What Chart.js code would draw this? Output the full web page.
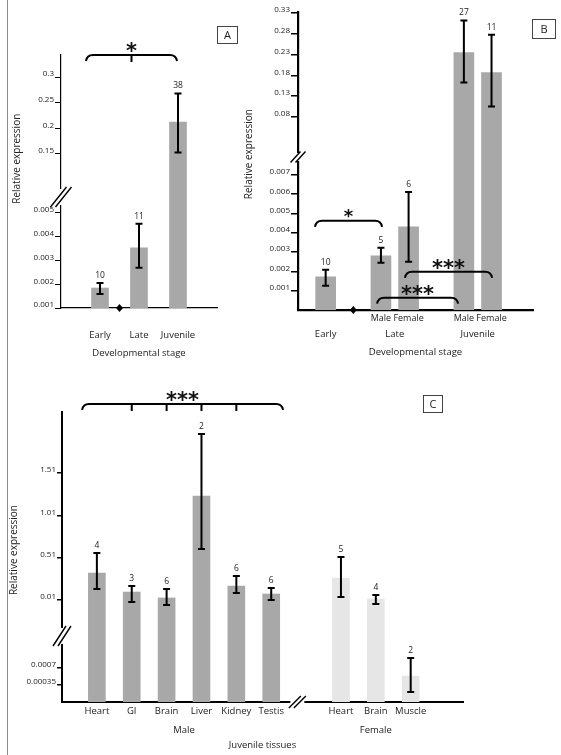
<!DOCTYPE html>
<html>
<head>
<meta charset="utf-8">
<script src="https://cdn.jsdelivr.net/npm/chart.js@4.4.1/dist/chart.umd.min.js"></script>
<style>
  body { margin: 0; background: #fff; width: 561px; height: 755px; position: relative; overflow: hidden; }
  canvas { position: absolute; }
  #chartA { left: 0; top: 0; }
  #chartB { left: 230px; top: 0; }
  #chartC { left: 0; top: 370px; }
  .rule { position: absolute; left: 7px; top: 0; width: 1px; height: 755px; background: #8c8c8c; }
  .tag { position: absolute; border: 1px solid #444; box-sizing: border-box; font: 11px 'Open Sans', sans-serif;
         color: #222; text-align: center; }
</style>
</head>
<body>
<div class="rule"></div>
<canvas id="chartA" width="280" height="365"></canvas>
<canvas id="chartB" width="331" height="365"></canvas>
<canvas id="chartC" width="561" height="385"></canvas>
<div class="tag" style="left:217px;top:26px;width:21px;height:18px;line-height:16px">A</div>
<div class="tag" style="left:532px;top:19px;width:24px;height:20px;line-height:18px">B</div>
<div class="tag" style="left:423px;top:395px;width:20px;height:18px;line-height:16px">C</div>
<script>
// Panel A: developmental stage
const stagesA = ['Early', 'Late', 'Juvenile'];
const meanA = [0.00184, 0.00353, 0.212];
const lowA = [0.00159, 0.00269, 0.153];
const highA = [0.00205, 0.00454, 0.268];
const nA = [10, 11, 38];
const ticksHiA = ['0.15', '0.2', '0.25', '0.3'];
const ticksLoA = ['0.001', '0.002', '0.003', '0.004', '0.005'];

// Panel B: stage split by sex
const stagesB = ['Early', 'Late', 'Late', 'Juvenile', 'Juvenile'];
const sexB = ['', 'Male', 'Female', 'Male', 'Female'];
const meanB = [0.00172, 0.00281, 0.00431, 0.235, 0.187];
const lowB = [0.00126, 0.00245, 0.0025, 0.163, 0.105];
const highB = [0.00209, 0.00322, 0.00612, 0.312, 0.278];
const nB = [10, 5, 6, 27, 11];
const ticksHiB = ['0.08', '0.13', '0.18', '0.23', '0.28', '0.33'];
const ticksLoB = ['0.001', '0.002', '0.003', '0.004', '0.005', '0.006', '0.007'];

// Panel C: juvenile tissues
const tissuesC = ['Heart', 'GI', 'Brain', 'Liver', 'Kidney', 'Testis', 'Heart', 'Brain', 'Muscle'];
const sexC = ['Male', 'Male', 'Male', 'Male', 'Male', 'Male', 'Female', 'Female', 'Female'];
const meanC = [0.329, 0.104, 0.034, 1.238, 0.175, 0.081, 0.27, 0.022, 0.000535];
const lowC = [0.14, -0.014, -0.049, 0.612, 0.093, 0.01, 0.045, -0.037, 0.000206];
const highC = [0.565, 0.175, 0.14, 1.97, 0.293, 0.152, 0.518, 0.069, 0.000906];
const nC = [4, 3, 6, 2, 6, 6, 5, 4, 2];
const ticksHiC = ['0.01', '0.51', '1.01', '1.51'];
const ticksLoC = ['0.00035', '0.0007'];

const FONT = "'Open Sans', sans-serif";
const GREY = '#a8a8a8';
const LIGHT = '#e6e6e6';

// spread the bars over slots of a category axis (blank slots make the gaps)
function spread(vals, slots, n, fill) {
  const out = new Array(n + 1).fill(fill);
  slots.forEach((s, i) => { out[s] = vals[i]; });
  return out;
}

function yAxis(seg, texts, p, order) {
  return {
    type: 'linear', position: 'left', stack: 'y', stackWeight: seg.weight, weight: order,
    min: seg.min, max: seg.max,
    afterBuildTicks: s => { s.ticks = texts.map(t => ({ value: Number(t) })); },
    afterFit: s => { s.width = p.yWidth; },
    ticks: { callback: (v, i) => texts[i], autoSkip: false, padding: 1, labelOffset: -3,
             font: { family: FONT, size: 8 }, color: '#222' },
    grid: { drawOnChartArea: false, tickLength: p.tickLen, color: '#000', lineWidth: p.tickWidth },
    border: { color: '#000', width: p.axisWidth }
  };
}

function extras(p) {
  return {
    id: 'extras',
    afterDraw(chart) {
      const { ctx, chartArea: ca } = chart;
      const x = chart.scales.x, hi = chart.scales.yHi, lo = chart.scales.yLo;
      const sx = s => x.getPixelForValue(s);
      ctx.save();
      ctx.strokeStyle = '#000';
      ctx.fillStyle = '#222';

      // error bars and sample sizes
      p.mean.forEach((m, i) => {
        const sc = m > p.lo.max ? hi : lo;
        const cx = sx(p.slots[i]);
        const t = sc.getPixelForValue(p.high[i]);
        const b = sc.getPixelForValue(p.low[i]);
        ctx.lineWidth = 2;
        ctx.beginPath();
        ctx.moveTo(cx, t); ctx.lineTo(cx, b);
        ctx.moveTo(cx - 3.5, t); ctx.lineTo(cx + 3.5, t);
        ctx.moveTo(cx - 3.5, b); ctx.lineTo(cx + 3.5, b);
        ctx.stroke();
        ctx.font = '8.5px ' + FONT;
        ctx.textAlign = 'center';
        ctx.textBaseline = 'alphabetic';
        ctx.fillText(String(p.n[i]), cx, t - 5);
      });

      // significance brackets
      (p.brackets || []).forEach(br => {
        const y = chart.scales[br.scale].getPixelForValue(br.y);
        const x1 = sx(br.from), x2 = sx(br.to);
        ctx.lineWidth = 2;
        ctx.beginPath();
        ctx.moveTo(x1, y + 6); ctx.quadraticCurveTo(x1 + 1, y, x1 + 7, y);
        ctx.lineTo(x2 - 7, y); ctx.quadraticCurveTo(x2 - 1, y, x2, y + 6);
        (br.ticks || []).forEach(s => { ctx.moveTo(sx(s), y); ctx.lineTo(sx(s), y + 7); });
        ctx.stroke();
        ctx.fillStyle = '#111';
        ctx.font = 'bold ' + br.size + "px 'DejaVu Sans'";
        ctx.textAlign = 'center';
        ctx.textBaseline = 'alphabetic';
        ctx.fillText(br.text, (x1 + x2) / 2, y - 9 + br.size * 0.58);
        ctx.fillStyle = '#222';
      });

      // broken y axis
      const by = hi.bottom, ax = ca.left, k = p.ybreak;
      ctx.fillStyle = '#fff';
      ctx.fillRect(ax - 2, by - k.gap, 4, 2 * k.gap);
      ctx.lineWidth = 1.4;
      ctx.beginPath();
      [-2.5, 2.5].forEach(d => {
        ctx.moveTo(ax - k.w + d, by + k.h); ctx.lineTo(ax + k.w + d, by - k.h);
      });
      ctx.stroke();

      // broken x axis
      if (p.xbreak !== undefined) {
        const bx = sx(p.xbreak), yb = ca.bottom;
        ctx.fillStyle = '#fff';
        ctx.fillRect(bx - 7, yb - 2, 14, 4);
        ctx.beginPath();
        [-2.5, 2.5].forEach(d => {
          ctx.moveTo(bx - 6 + d, yb + 6); ctx.lineTo(bx + 6 + d, yb - 6);
        });
        ctx.stroke();
      }

      // diamond on the x axis
      if (p.diamond !== undefined) {
        const dx = sx(p.diamond), dy = ca.bottom;
        ctx.fillStyle = '#000';
        ctx.beginPath();
        ctx.moveTo(dx, dy - 4); ctx.lineTo(dx + 3.5, dy); ctx.lineTo(dx, dy + 4); ctx.lineTo(dx - 3.5, dy);
        ctx.closePath();
        ctx.fill();
      }

      // group labels under the tick labels
      ctx.fillStyle = '#222';
      ctx.font = '9.5px ' + FONT;
      ctx.textAlign = 'center';
      ctx.textBaseline = 'middle';
      if (p.groups) {
        let start = 0;
        for (let i = 1; i <= p.groups.length; i++) {
          if (i === p.groups.length || p.groups[i] !== p.groups[start]) {
            const mid = (sx(p.slots[start]) + sx(p.slots[i - 1])) / 2;
            ctx.fillText(p.groups[start], mid, ca.bottom + p.groupDy);
            start = i;
          }
        }
      }

      // y axis title
      ctx.translate(ca.left - p.yTitle.dx, ca.top + p.yTitle.f * (ca.bottom - ca.top));
      ctx.rotate(-Math.PI / 2);
      ctx.font = '10px ' + FONT;
      ctx.fillText('Relative expression', 0, 0);
      ctx.restore();
    }
  };
}

function makePanel(id, p) {
  const labels = spread(p.names, p.slots, p.nSlots, '');
  const colors = spread(p.colors, p.slots, p.nSlots, GREY);
  const loData = spread(p.mean.map(v => Math.min(v, p.lo.max)), p.slots, p.nSlots, null);
  const hiData = spread(p.mean.map(v => (v > p.lo.max ? [p.hi.min, v] : null)), p.slots, p.nSlots, null);
  const bar = { backgroundColor: colors, barThickness: p.barWidth, grouped: false };
  return new Chart(document.getElementById(id), {
    type: 'bar',
    data: {
      labels,
      datasets: [
        Object.assign({ data: loData, yAxisID: 'yLo' }, bar),
        Object.assign({ data: hiData, yAxisID: 'yHi' }, bar)
      ]
    },
    options: {
      responsive: false,
      animation: false,
      devicePixelRatio: 1,
      layout: { padding: p.padding },
      plugins: { legend: { display: false }, tooltip: { enabled: false } },
      scales: {
        x: {
          type: 'category', offset: false,
          grid: { display: false, drawTicks: false },
          border: { color: '#000', width: p.axisWidth },
          afterFit: s => { s.height = p.xHeight; },
          ticks: { autoSkip: false, maxRotation: 0, padding: p.xTickPad,
                   font: { family: FONT, size: p.xFont }, color: '#222' },
          title: { display: true, text: p.xTitle, padding: 0, font: { family: FONT, size: 9.5 }, color: '#222' }
        },
        yLo: yAxis(p.lo, p.loTicks, p, 1),
        yHi: yAxis(p.hi, p.hiTicks, p, 2)
      }
    },
    plugins: [extras(p)]
  });
}

makePanel('chartA', {
  names: stagesA, mean: meanA, low: lowA, high: highA, n: nA,
  hiTicks: ticksHiA, loTicks: ticksLoA, colors: stagesA.map(() => GREY),
  slots: [2, 4, 6], nSlots: 8, diamond: 3,
  hi: { min: 0.066, max: 0.343, weight: 142 },
  lo: { min: 0.001, max: 0.00567, weight: 111 },
  padding: { left: 0, right: 63, top: 55, bottom: 6 },
  yWidth: 61, xHeight: 51, xTickPad: 22, xFont: 9.5, xTitle: 'Developmental stage',
  barWidth: 17, axisWidth: 1.2, tickLen: 6, tickWidth: 1,
  ybreak: { w: 8, h: 10, gap: 8 },
  yTitle: { dx: 44, f: 0.41 },
  brackets: [{ scale: 'yHi', y: 0.343, from: 1.28, to: 5.95, ticks: [3.615], text: '*', size: 21 }]
});

makePanel('chartB', {
  names: sexB, groups: stagesB, groupDy: 24, mean: meanB, low: lowB, high: highB, n: nB,
  hiTicks: ticksHiB, loTicks: ticksLoB, colors: sexB.map(() => GREY),
  slots: [2, 6, 8, 12, 14], nSlots: 17, diamond: 4,
  hi: { min: -0.0162, max: 0.3324, weight: 145 },
  lo: { min: 0, max: 0.00793, weight: 153 },
  padding: { left: 0, right: 28, top: 12, bottom: 7 },
  yWidth: 68, xHeight: 48, xTickPad: 3, xFont: 9, xTitle: 'Developmental stage',
  barWidth: 20, axisWidth: 2.2, tickLen: 7, tickWidth: 1.5,
  ybreak: { w: 5, h: 5.5, gap: 4 },
  yTitle: { dx: 49, f: 0.477 },
  brackets: [
    { scale: 'yLo', y: 0.00462, from: 1.23, to: 6.08, text: '*', size: 18 },
    { scale: 'yLo', y: 0.00198, from: 7.74, to: 14.04, text: '***', size: 21 },
    { scale: 'yLo', y: 0.00064, from: 5.72, to: 11.58, text: '***', size: 21 }
  ]
});

makePanel('chartC', {
  names: tissuesC, groups: sexC, groupDy: 28, mean: meanC, low: lowC, high: highC, n: nC,
  hiTicks: ticksHiC, loTicks: ticksLoC, colors: sexC.map(s => (s === 'Male' ? GREY : LIGHT)),
  slots: [2, 4, 6, 8, 10, 12, 16, 18, 20], nSlots: 23, xbreak: 13.5,
  hi: { min: -0.415, max: 2.23, weight: 224 },
  lo: { min: 0, max: 0.00136, weight: 66 },
  padding: { left: 0, right: 98, top: 42, bottom: 4 },
  yWidth: 62, xHeight: 49, xTickPad: 4, xFont: 9.5, xTitle: 'Juvenile tissues',
  barWidth: 17, axisWidth: 2, tickLen: 5, tickWidth: 1.5,
  ybreak: { w: 6.5, h: 10, gap: 8 },
  yTitle: { dx: 48, f: 0.476 },
  brackets: [{ scale: 'yHi', y: 2.325, from: 1.15, to: 12.68, ticks: [4, 6, 8, 10], text: '***', size: 21 }]
});
</script>
</body>
</html>
